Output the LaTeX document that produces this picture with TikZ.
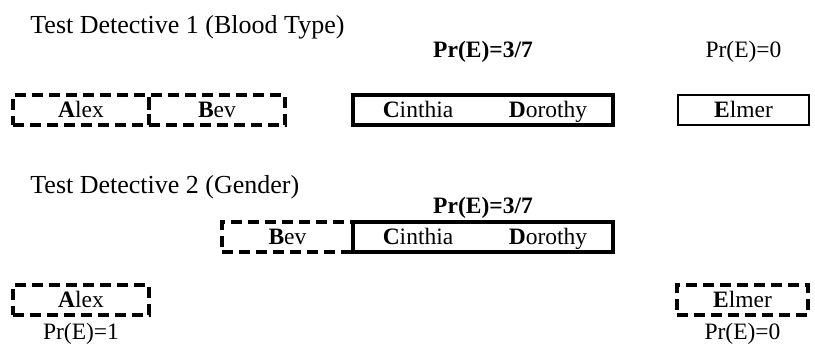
\documentclass[tikz,border=0pt]{standalone}
\usepackage{fontspec}
\setmainfont{Liberation Serif}
\usetikzlibrary{positioning,fit}

\begin{document}
\begin{tikzpicture}[
    x=0.5pt, y=-0.5pt,
    node distance=0pt,
    person/.style={
        minimum width=65pt,
        minimum height=15pt,
        inner sep=0pt,
        outer sep=0pt,
        text height=7.8pt,
        text depth=0pt,
        font=\fontsize{11.75}{14}\selectfont
    },
    dashbox/.style={
        person,
        draw,
        line width=2pt,
        dash pattern=on 5.5pt off 3pt
    },
    thinbox/.style={
        person,
        draw,
        line width=1.2pt
    },
    groupbox/.style={
        draw,
        line width=2pt,
        inner sep=0pt,
        outer sep=0pt
    },
    prob/.style={
        inner sep=0pt,
        text height=7.8pt,
        text depth=0pt,
        font=\fontsize{11.75}{14}\selectfont
    },
    title/.style={
        inner sep=0pt,
        anchor=base west,
        font=\fontsize{13}{16}\selectfont
    }
]
\useasboundingbox (0,0) rectangle (815,344);

\node[title] (test1) at (30,33) {Test Detective 1 (Blood Type)};
\node[dashbox, minimum width=68pt] (alex1) at (81,110) {\textbf{A}lex};
\node[dashbox, minimum width=68pt, right=of alex1] (bev1) {\textbf{B}ev};
\node[person] (cinthia1) at (418,110) {\textbf{C}inthia};
\node[person, right=of cinthia1] (dorothy1) {\textbf{D}orothy};
\node[groupbox, fit=(cinthia1)(dorothy1)] (group1) {};
\node[thinbox, minimum width=65.5pt] (elmer1) at (743.5,110) {\textbf{E}lmer};
\node[prob, above=18.5pt of group1] (prgroup1) {\textbf{Pr(E)=3/7}};
\node[prob, above=18.5pt of elmer1] (prelmer1) {Pr(E)=0};

\node[title] (test2) at (30,193) {Test Detective 2 (Gender)};
\node[dashbox, minimum width=65.5pt] (bev2) at (287.5,236.5) {\textbf{B}ev};
\node[person, right=of bev2] (cinthia2) {\textbf{C}inthia};
\node[person, right=of cinthia2] (dorothy2) {\textbf{D}orothy};
\node[groupbox, fit=(cinthia2)(dorothy2)] (group2) {};
\node[prob, above=3.75pt of group2] (prgroup2) {\textbf{Pr(E)=3/7}};

\node[dashbox, minimum width=68pt] (alex3) at (81,300) {\textbf{A}lex};
\node[dashbox, minimum width=65.5pt] (elmer3) at (742.5,300) {\textbf{E}lmer};
\node[prob, below=4.25pt of alex3] (pralex3) {Pr(E)=1};
\node[prob, below=4.25pt of elmer3] (prelmer3) {Pr(E)=0};
\end{tikzpicture}
\end{document}
